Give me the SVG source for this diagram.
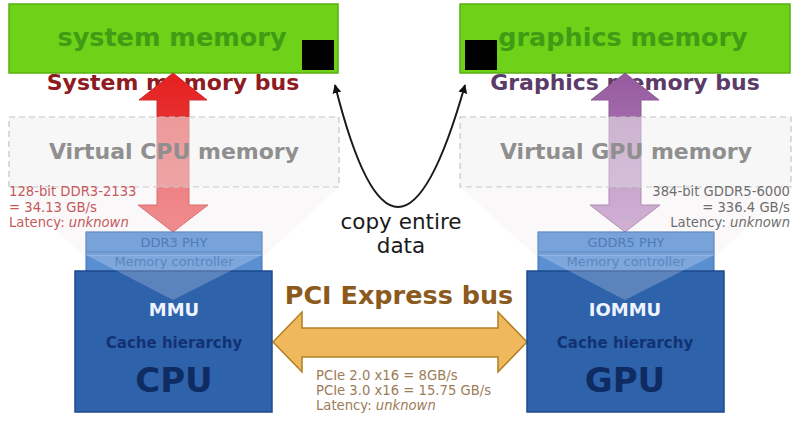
<svg xmlns="http://www.w3.org/2000/svg" width="800" height="427" viewBox="0 0 800 427">
<defs>
<style>
.b{font-family:"DejaVu Sans","Liberation Sans",sans-serif;font-weight:bold;text-anchor:middle}
.r{font-family:"DejaVu Sans","Liberation Sans",sans-serif;}
.mem{fill:#6dd218;stroke:#5ab010;stroke-width:1.5}
.memt{fill:#3f9c14;font-size:25.5px}
.virt{fill:#f0f0f0;fill-opacity:0.55;stroke:#c4c4c4;stroke-width:1.2;stroke-dasharray:6 4}
.virtt{fill:#8f8f8f;font-size:22px}
.phy{fill:#5a8fd2;stroke:#3f6fae;stroke-width:1}
.chip{fill:#2e62ab;stroke:#1e4a8e;stroke-width:1.5}
.small{font-size:13.2px}
</style>
<linearGradient id="gr" x1="0" y1="0" x2="0" y2="1">
<stop offset="0" stop-color="#e51f1f"/><stop offset="1" stop-color="#ee5a5a"/>
</linearGradient>
<linearGradient id="gp" x1="0" y1="0" x2="0" y2="1">
<stop offset="0" stop-color="#955a9e"/><stop offset="1" stop-color="#bf92c6"/>
</linearGradient>
<marker id="ah" viewBox="0 0 10 10" refX="9" refY="5" markerWidth="9" markerHeight="9" markerUnits="userSpaceOnUse" orient="auto-start-reverse">
<path d="M0,0 L10,5 L0,10 Z" fill="#111"/>
</marker>
</defs>
<rect width="800" height="427" fill="#ffffff"/>

<g id="system-memory">
<rect class="mem" x="9" y="4" width="329" height="69"/>
<text class="b memt" x="172" y="46">system memory</text>
<rect x="302" y="40" width="32" height="30" fill="#000"/>
</g>
<g id="graphics-memory">
<rect class="mem" x="460" y="4" width="330" height="69"/>
<text class="b memt" x="623" y="46">graphics memory</text>
<rect x="465" y="40" width="32" height="30" fill="#000"/>
</g>

<text class="b" x="173" y="90" font-size="22" fill="#8e1b22">System memory bus</text>
<text class="b" x="625" y="90" font-size="22" fill="#5b3b68">Graphics memory bus</text>

<g id="connectors">
<path id="sys-bus" d="M173,73 L207,100 L189,100 L189,205 L208,205 L173,232 L138,205 L157,205 L157,100 L139,100 Z" fill="url(#gr)" stroke="#c83030" stroke-width="1"/>
<path id="gfx-bus" d="M625,73 L659,100 L641,100 L641,205 L660,205 L625,232 L590,205 L609,205 L609,100 L591,100 Z" fill="url(#gp)" stroke="#8a5a92" stroke-width="1"/>
<path id="copy" d="M335,85 Q396,329 465,85" fill="none" stroke="#1a1a1a" stroke-width="2" marker-start="url(#ah)" marker-end="url(#ah)"/>
<path id="pcie-bus" d="M273,342 L302,312 L302,328 L498,328 L498,312 L527,342 L498,372 L498,357 L302,357 L302,372 Z" fill="#f0b85c" stroke="#b07f22" stroke-width="1.5"/>
</g>

<g id="virtual-cpu">
<rect class="virt" x="9" y="117" width="330" height="70"/>
<text class="b virtt" x="174" y="159">Virtual CPU memory</text>
</g>
<g id="virtual-gpu">
<rect class="virt" x="460" y="117" width="331" height="70"/>
<text class="b virtt" x="626" y="159">Virtual GPU memory</text>
</g>

<polygon points="9,187 339,187 262,258 86,258" fill="#f3ecf2" fill-opacity="0.35"/>
<polygon points="460,187 791,187 714,258 538,258" fill="#f3ecf2" fill-opacity="0.35"/>

<g class="r small" fill="#c45a5a">
<text x="9" y="196">128-bit DDR3-2133</text>
<text x="9" y="212">= 34.13 GB/s</text>
<text x="9" y="227">Latency: <tspan font-style="italic">unknown</tspan></text>
</g>
<g class="r small" fill="#6e6e6e" text-anchor="end">
<text x="790" y="196">384-bit GDDR5-6000</text>
<text x="790" y="212">= 336.4 GB/s</text>
<text x="790" y="227">Latency: <tspan font-style="italic">unknown</tspan></text>
</g>

<g class="r" font-size="21.5" fill="#1a1a1a" text-anchor="middle">
<text x="401" y="229">copy entire</text>
<text x="401" y="253">data</text>
</g>

<g id="cpu">
<rect class="phy" x="86" y="232" width="176" height="40"/>
<line x1="86" y1="252" x2="262" y2="252" stroke="#3f6fae" stroke-width="1"/>
<rect class="chip" x="75" y="271" width="197" height="141"/>
<polygon points="86,255 262,255 173,300" fill="#ffffff" fill-opacity="0.22"/>
<rect x="86" y="232" width="176" height="24" fill="#ffffff" fill-opacity="0.18"/>
<text class="r" x="174" y="247" font-size="13" fill="#4f7bb6" text-anchor="middle">DDR3 PHY</text>
<text class="r" x="174" y="266" font-size="13" fill="#5c86bf" text-anchor="middle">Memory controller</text>
<text class="b" x="174" y="316" font-size="18" fill="#eef3ff">MMU</text>
<text class="b" x="174" y="348" font-size="15" fill="#123273">Cache hierarchy</text>
<text class="b" x="174" y="392" font-size="34" fill="#0e2c62">CPU</text>
</g>

<g id="gpu">
<rect class="phy" x="538" y="232" width="176" height="40"/>
<line x1="538" y1="252" x2="714" y2="252" stroke="#3f6fae" stroke-width="1"/>
<rect class="chip" x="527" y="271" width="197" height="141"/>
<polygon points="538,255 714,255 625,300" fill="#ffffff" fill-opacity="0.22"/>
<rect x="538" y="232" width="176" height="24" fill="#ffffff" fill-opacity="0.18"/>
<text class="r" x="626" y="247" font-size="13" fill="#4f7bb6" text-anchor="middle">GDDR5 PHY</text>
<text class="r" x="626" y="266" font-size="13" fill="#5c86bf" text-anchor="middle">Memory controller</text>
<text class="b" x="625" y="316" font-size="18" fill="#eef3ff">IOMMU</text>
<text class="b" x="625" y="348" font-size="15" fill="#123273">Cache hierarchy</text>
<text class="b" x="625" y="392" font-size="34" fill="#0e2c62">GPU</text>
</g>

<text class="b" x="399" y="304" font-size="25.5" fill="#8c5a1c">PCI Express bus</text>
<g class="r" font-size="13.2" fill="#9c7c58">
<text x="316" y="380">PCIe 2.0 x16 = 8GB/s</text>
<text x="316" y="395">PCIe 3.0 x16 = 15.75 GB/s</text>
<text x="316" y="410">Latency: <tspan font-style="italic">unknown</tspan></text>
</g>
</svg>
